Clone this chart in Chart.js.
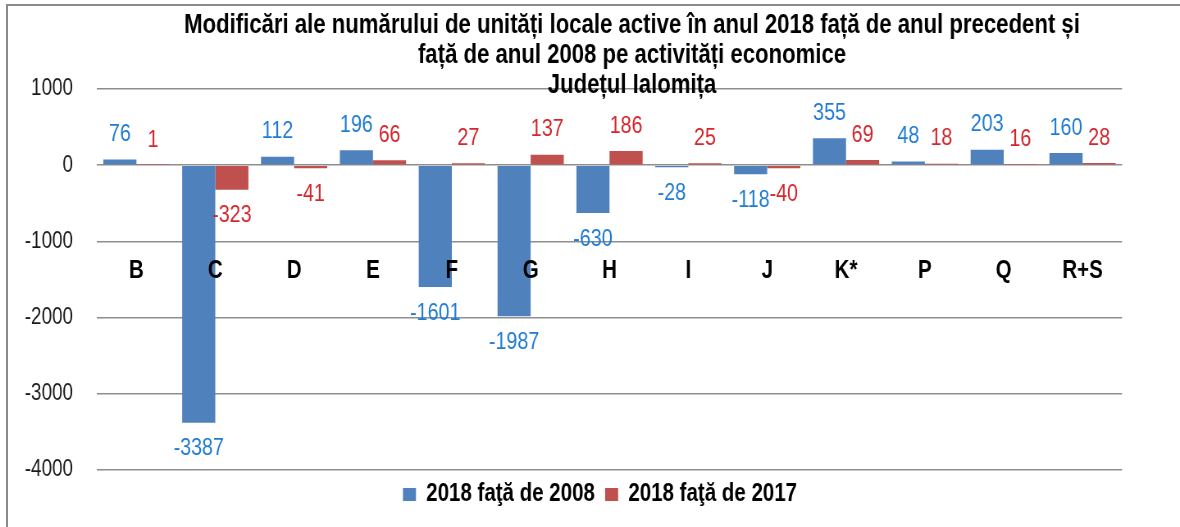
<!DOCTYPE html>
<html>
<head>
<meta charset="utf-8">
<script src="https://cdn.jsdelivr.net/npm/chart.js@4.4.1/dist/chart.umd.min.js"></script>
<style>
  html, body { margin: 0; padding: 0; background: #fff; }
  #wrap { position: relative; width: 1180px; height: 527px; overflow: hidden; }
  #narrow { position: absolute; left: 0; top: 0; width: 1439px; height: 527px;
            transform: scaleX(0.82); transform-origin: 0 0; }
  #frame { position: absolute; left: 6px; top: 4px; width: 1200px; height: 600px;
           border-left: 2px solid #8a8a8a; border-top: 2px solid #8a8a8a; pointer-events: none; }
  canvas { display: block; }
</style>
</head>
<body>
<div id="wrap">
  <div id="narrow"><canvas id="c" width="1439" height="527"></canvas></div>
  <div id="frame"></div>
</div>
<script>
const categories = ['B', 'C', 'D', 'E', 'F', 'G', 'H', 'I', 'J', 'K*', 'P', 'Q', 'R+S'];
const change2018vs2008 = [76, -3387, 112, 196, -1601, -1987, -630, -28, -118, 355, 48, 203, 160];
const change2018vs2017 = [1, -323, -41, 66, 27, 137, 186, 25, -40, 69, 18, 16, 28];
const seriesNames = ['2018 faţă de 2008', '2018 faţă de 2017'];
const titleLines = [
  'Modificări ale numărului de unități locale active în anul 2018 față de anul precedent și',
  'față de anul 2008 pe activități economice',
  'Județul Ialomița'
];
const yTicks = [1000, 0, -1000, -2000, -3000, -4000];

// canvas is drawn wide and squeezed horizontally (Arial Narrow look)
const K = 0.82;
const FONT = "'Liberation Sans', Arial, sans-serif";
const barColors = ['#4F81BD', '#C0504D'];
const labelColors = ['#1F7BD3', '#D4262C'];

const valueLabels = {
  id: 'valueLabels',
  afterDatasetsDraw(chart) {
    const ctx = chart.ctx;
    ctx.save();
    ctx.font = '24px ' + FONT;
    ctx.textAlign = 'center';
    ctx.textBaseline = 'middle';
    chart.data.datasets.forEach((ds, di) => {
      const meta = chart.getDatasetMeta(di);
      ctx.fillStyle = labelColors[di];
      meta.data.forEach((el, i) => {
        const v = ds.data[i];
        const y = v >= 0 ? el.y - 25 : el.y + 26;
        ctx.fillText(String(v), el.x, y);
      });
    });
    ctx.restore();
  }
};

const centerBoxes = {
  id: 'centerBoxes',
  afterLayout(chart) {
    const t = chart.titleBlock;
    if (t) { const w = t.right - t.left; t.left = 632 / K - w / 2; t.right = t.left + w; }
    const l = chart.legend;
    if (l) { const w = l.right - l.left; l.left = 600 / K - w / 2; l.right = l.left + w; }
  }
};

new Chart(document.getElementById('c'), {
  type: 'bar',
  data: {
    labels: categories,
    datasets: [
      { label: seriesNames[0], data: change2018vs2008, backgroundColor: barColors[0],
        categoryPercentage: 0.84, barPercentage: 1.0 },
      { label: seriesNames[1], data: change2018vs2017, backgroundColor: barColors[1],
        categoryPercentage: 0.84, barPercentage: 1.0 }
    ]
  },
  options: {
    responsive: false,
    animation: false,
    devicePixelRatio: 1,
    layout: { padding: { left: 0, right: 1439 - 1122 / K, top: 0, bottom: 10 } },
    plugins: {
      title: {
        display: true,
        text: titleLines,
        color: '#000',
        font: { family: FONT, size: 27, weight: 'bold', lineHeight: 1.1 },
        padding: { top: 11, bottom: -11 }
      },
      legend: {
        display: true,
        position: 'bottom',
        labels: {
          color: '#000',
          font: { family: FONT, size: 25, weight: 'bold' },
          boxWidth: 13 / K, boxHeight: 13, padding: 12.5
        }
      },
      tooltip: { enabled: false }
    },
    scales: {
      x: {
        position: { y: -1000 },
        grid: { display: false, drawTicks: false },
        border: { display: false },
        ticks: {
          z: 1,
          color: '#000',
          font: { family: FONT, size: 25, weight: 'bold' },
          padding: 15,
          maxRotation: 0
        }
      },
      y: {
        min: -4000,
        max: 1000,
        afterFit(s) { s.width = 97 / K; },
        afterBuildTicks(s) { s.ticks = yTicks.map(v => ({ value: v })); },
        grid: { color: '#8E8E8E', lineWidth: 1.5, drawTicks: false },
        border: { display: false },
        ticks: {
          color: '#1a1a1a',
          font: { family: FONT, size: 23 },
          padding: 24 / K,
          callback: v => String(v)
        }
      }
    }
  },
  plugins: [valueLabels, centerBoxes]
});
</script>
</body>
</html>
